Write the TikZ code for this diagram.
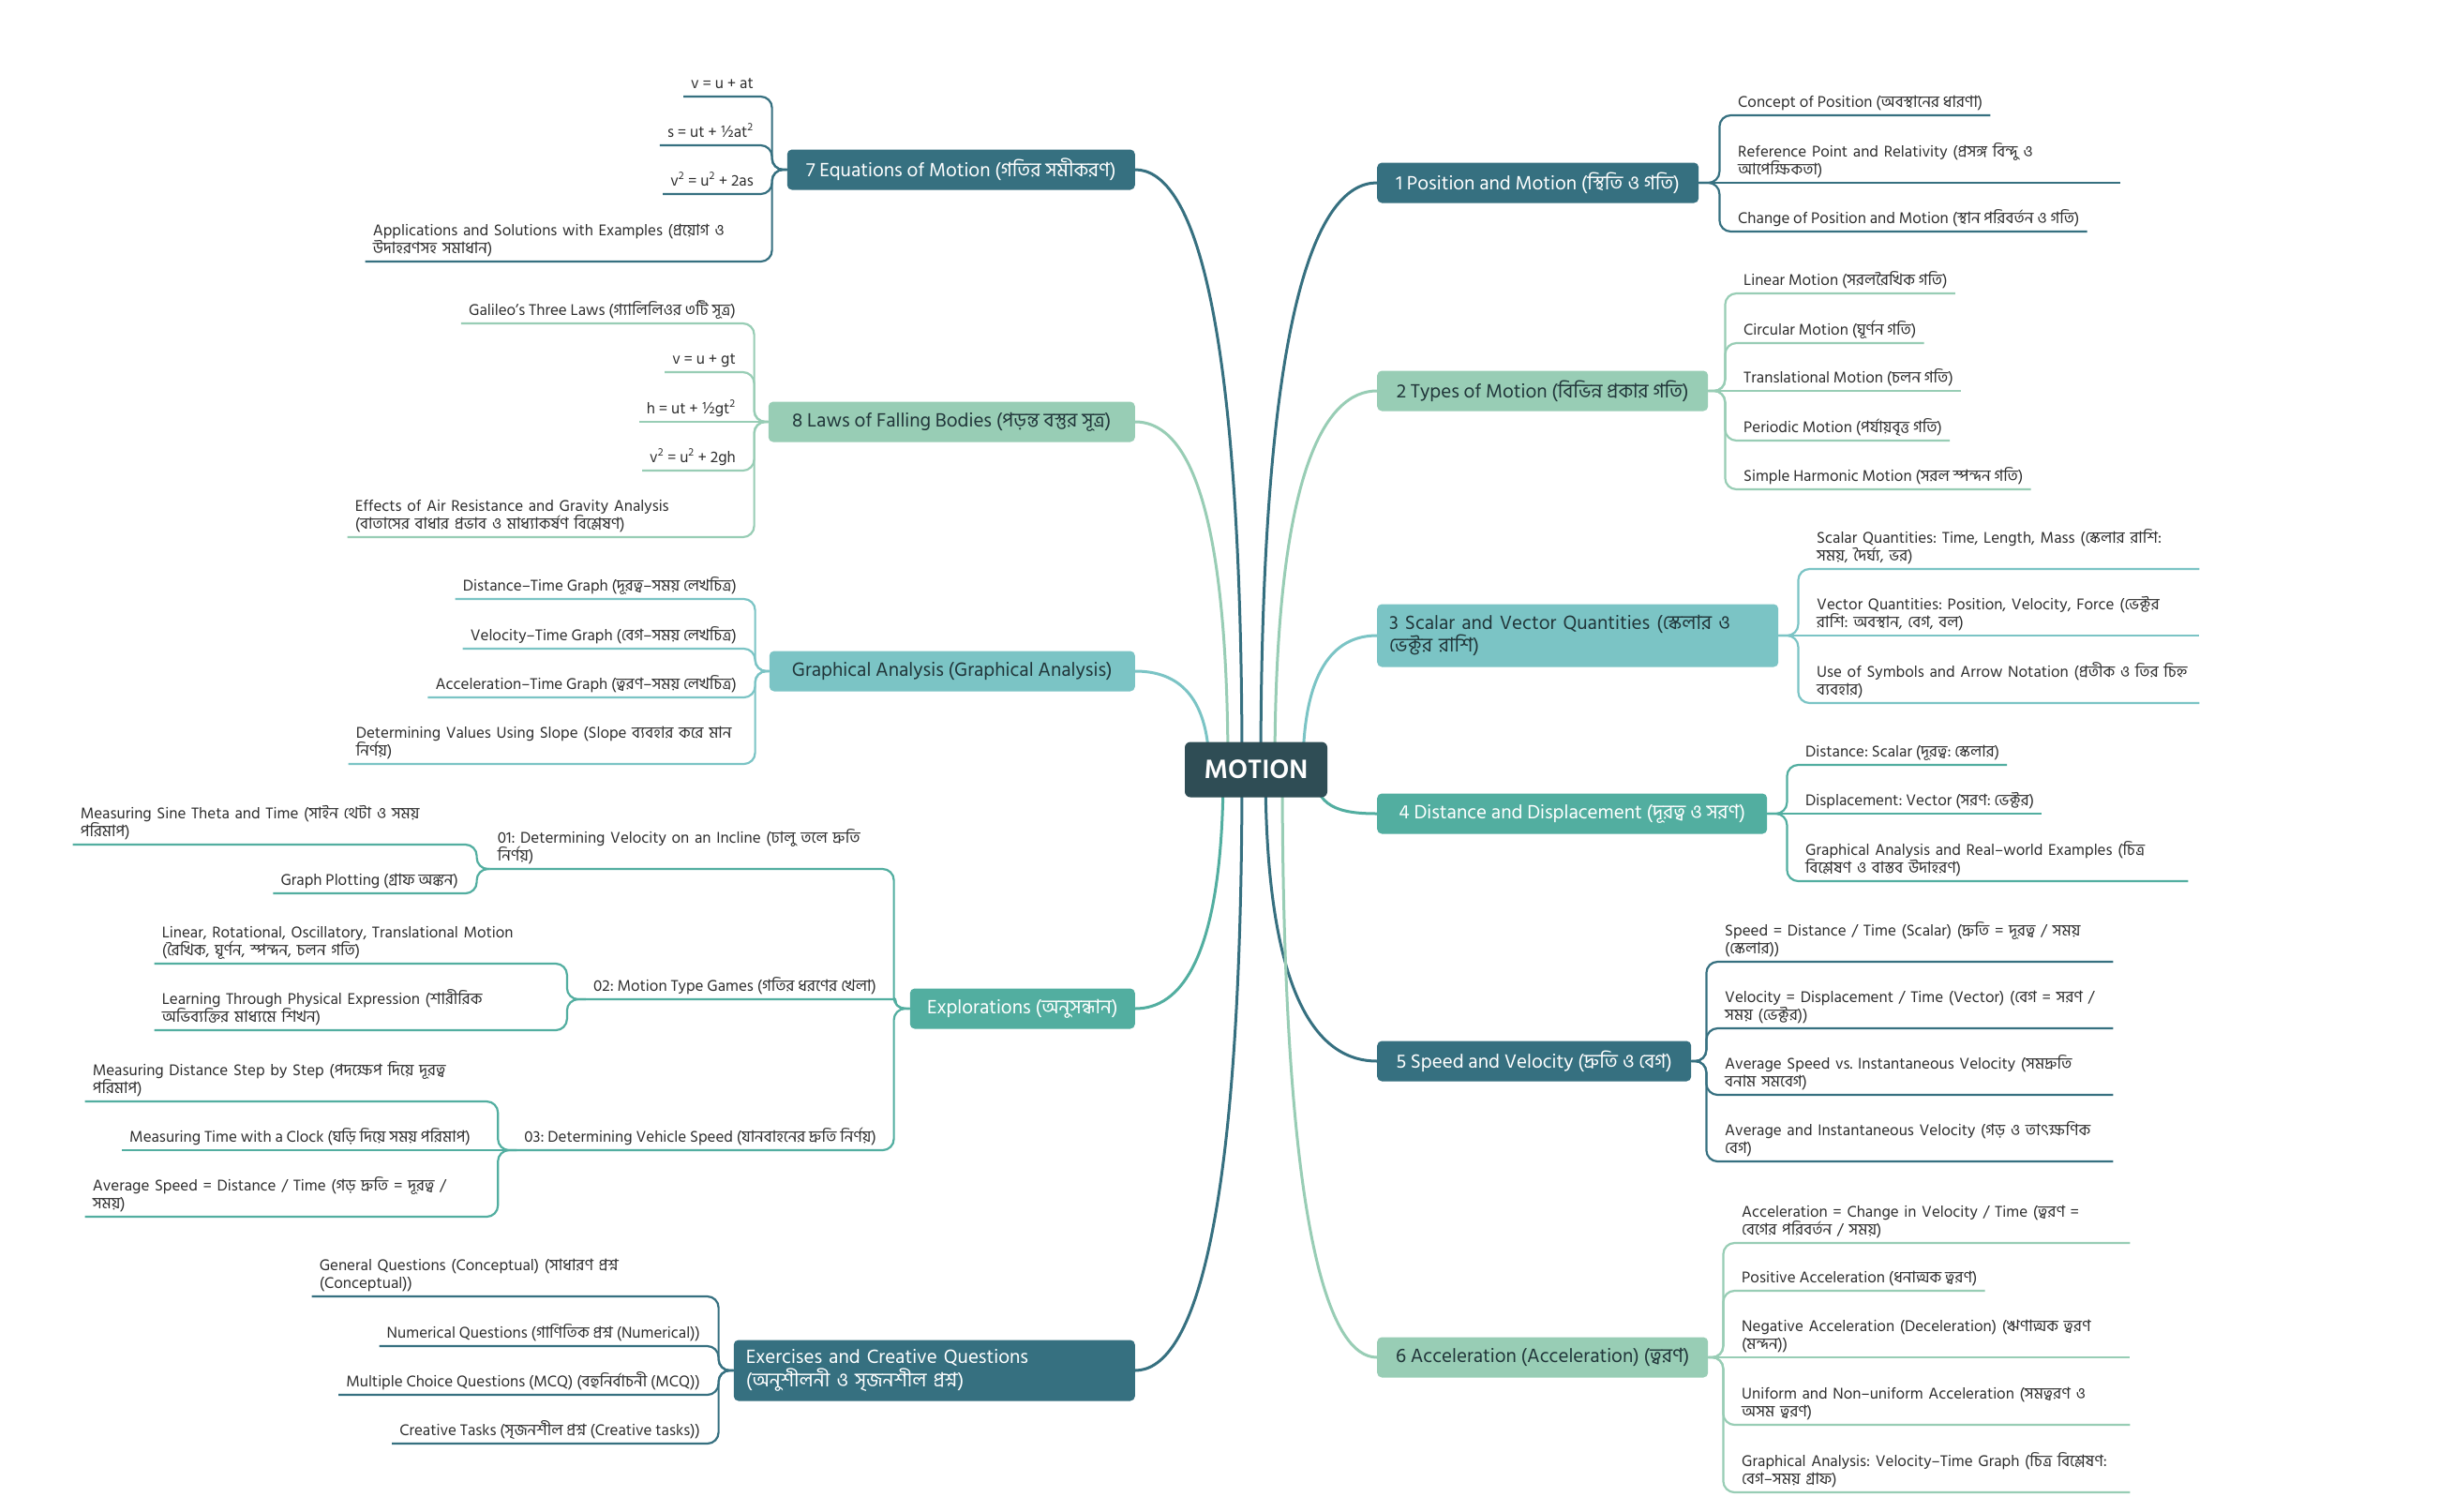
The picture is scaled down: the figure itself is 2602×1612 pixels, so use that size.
\documentclass[tikz,border=0pt]{standalone}
\usepackage{fontspec}
\setmainfont[Script=Bengali]{Hind Siliguri}
\usepackage{tikz}
\usetikzlibrary{calc,backgrounds}
\definecolor{deepteal}{HTML}{367080}
\definecolor{mintgreen}{HTML}{98CDB5}
\definecolor{paleteal}{HTML}{7BC4C5}
\definecolor{midteal}{HTML}{52AEA0}
\definecolor{coreslate}{HTML}{2F4D55}
\definecolor{inktext}{HTML}{2E2E2E}
\definecolor{inkdark}{HTML}{21363A}
\newcommand{\sqr}{\textsuperscript{2}}

\begin{document}
\frenchspacing
\begin{tikzpicture}[
  x=1pt, y=-1pt,
  root/.style={fill=coreslate, text=white, rounded corners=6pt, minimum width=152pt,
    minimum height=59pt, font=\fontsize{29}{33}\selectfont\bfseries},
  topic/.style={rounded corners=5pt, inner xsep=13pt, minimum height=43pt,
    font=\fontsize{21}{24.5}\selectfont},
  darktopic/.style={topic, fill=deepteal, text=white},
  greentopic/.style={topic, fill=mintgreen, text=inkdark},
  paletopic/.style={topic, fill=paleteal, text=inkdark},
  midtopic/.style={topic, fill=midteal, text=white},
  leaf/.style={inner xsep=8pt, inner ysep=3pt, text=inktext,
    font=\fontsize{17}{19}\selectfont, execute at end node=\strut},
  wide/.style={text width=#1, align=left},
  trunk/.style={line width=3pt},
  twig/.style={line width=2.2pt, rounded corners=12pt},
]
  \useasboundingbox (0,0) rectangle (2602,1612);

  \node[root] (motion) at (1340,821) {MOTION};

  \node[darktopic, anchor=west, minimum width=343pt] (n1) at (1469,195) {1 Position and Motion (স্থিতি ও গতি)};
  \node[greentopic, anchor=west, minimum width=353pt] (n2) at (1469,417) {2 Types of Motion (বিভিন্ন প্রকার গতি)};
  \node[paletopic, anchor=west, wide=402pt, minimum height=67pt] (n3) at (1469,678) {3 Scalar and Vector Quantities (স্কেলার ও\\ভেক্টর রাশি)};
  \node[midtopic, anchor=west, minimum width=416pt] (n4) at (1469,868) {4 Distance and Displacement (দূরত্ব ও সরণ)};
  \node[darktopic, anchor=west, minimum width=335pt] (n5) at (1469,1132) {5 Speed and Velocity (দ্রুতি ও বেগ)};
  \node[greentopic, anchor=west, minimum width=353pt] (n6) at (1469,1448) {6 Acceleration (Acceleration) (ত্বরণ)};

  \node[darktopic, anchor=east, minimum width=371pt] (n7) at (1211,181) {7 Equations of Motion (গতির সমীকরণ)};
  \node[greentopic, anchor=east, minimum width=391pt] (n8) at (1211,450) {8 Laws of Falling Bodies (পড়ন্ত বস্তুর সূত্র)};
  \node[paletopic, anchor=east, minimum width=390pt] (ga) at (1211,716) {Graphical Analysis (Graphical Analysis)};
  \node[midtopic, anchor=east, minimum width=240pt] (ex) at (1211,1076) {Explorations (অনুসন্ধান)};
  \node[darktopic, anchor=east, wide=402pt, minimum height=65pt] (eq) at (1211,1462) {Exercises and Creative Questions\\(অনুশীলনী ও সৃজনশীল প্রশ্ন)};

  \node[leaf, anchor=south west] (l11) at (1846,123) {Concept of Position (অবস্থানের ধারণা)};
  \node[leaf, anchor=south west, wide=400pt] (l12) at (1846,195) {Reference Point and Relativity (প্রসঙ্গ বিন্দু ও\\আপেক্ষিকতা)};
  \node[leaf, anchor=south west] (l13) at (1846,247) {Change of Position and Motion (স্থান পরিবর্তন ও গতি)};
  \draw[twig, deepteal] (n1.east) -- ++(22,0) |- (l11.south east);
  \draw[twig, deepteal] (n1.east) -- (l12.south east);
  \draw[twig, deepteal] (n1.east) -- ++(22,0) |- (l13.south east);

  \node[leaf, anchor=south west] (l21) at (1852,313) {Linear Motion (সরলরৈখিক গতি)};
  \node[leaf, anchor=south west] (l22) at (1852,366) {Circular Motion (ঘূর্ণন গতি)};
  \node[leaf, anchor=south west] (l23) at (1852,417) {Translational Motion (চলন গতি)};
  \node[leaf, anchor=south west] (l24) at (1852,470) {Periodic Motion (পর্যায়বৃত্ত গতি)};
  \node[leaf, anchor=south west] (l25) at (1852,522) {Simple Harmonic Motion (সরল স্পন্দন গতি)};
  \draw[twig, mintgreen] (n2.east) -- ++(18,0) |- (l21.south east);
  \draw[twig, mintgreen] (n2.east) -- ++(18,0) |- (l22.south east);
  \draw[twig, mintgreen] (n2.east) -- (l23.south east);
  \draw[twig, mintgreen] (n2.east) -- ++(18,0) |- (l24.south east);
  \draw[twig, mintgreen] (n2.east) -- ++(18,0) |- (l25.south east);

  \node[leaf, anchor=south west, wide=400pt] (l31) at (1930,607) {Scalar Quantities: Time, Length, Mass (স্কেলার রাশি:\\সময়, দৈর্ঘ্য, ভর)};
  \node[leaf, anchor=south west, wide=400pt] (l32) at (1930,678) {Vector Quantities: Position, Velocity, Force (ভেক্টর\\রাশি: অবস্থান, বেগ, বল)};
  \node[leaf, anchor=south west, wide=400pt] (l33) at (1930,750) {Use of Symbols and Arrow Notation (প্রতীক ও তির চিহ্ন\\ব্যবহার)};
  \draw[twig, paleteal] (n3.east) -- ++(21,0) |- (l31.south east);
  \draw[twig, paleteal] (n3.east) -- (l32.south east);
  \draw[twig, paleteal] (n3.east) -- ++(21,0) |- (l33.south east);

  \node[leaf, anchor=south west] (l41) at (1918,816) {Distance: Scalar (দূরত্ব: স্কেলার)};
  \node[leaf, anchor=south west] (l42) at (1918,868) {Displacement: Vector (সরণ: ভেক্টর)};
  \node[leaf, anchor=south west, wide=400pt] (l43) at (1918,940) {Graphical Analysis and Real–world Examples (চিত্র\\বিশ্লেষণ ও বাস্তব উদাহরণ)};
  \draw[twig, midteal] (n4.east) -- ++(21,0) |- (l41.south east);
  \draw[twig, midteal] (n4.east) -- (l42.south east);
  \draw[twig, midteal] (n4.east) -- ++(21,0) |- (l43.south east);

  \node[leaf, anchor=south west, wide=406pt] (l51) at (1832,1026) {Speed = Distance / Time (Scalar) (দ্রুতি = দূরত্ব / সময়\\(স্কেলার))};
  \node[leaf, anchor=south west, wide=406pt] (l52) at (1832,1097) {Velocity = Displacement / Time (Vector) (বেগ = সরণ /\\সময় (ভেক্টর))};
  \node[leaf, anchor=south west, wide=406pt] (l53) at (1832,1168) {Average Speed vs. Instantaneous Velocity (সমদ্রুতি\\বনাম সমবেগ)};
  \node[leaf, anchor=south west, wide=406pt] (l54) at (1832,1239) {Average and Instantaneous Velocity (গড় ও তাৎক্ষণিক\\বেগ)};
  \draw[twig, deepteal] (n5.east) -- ++(16,0) |- (l51.south east);
  \draw[twig, deepteal] (n5.east) -- ++(16,0) |- (l52.south east);
  \draw[twig, deepteal] (n5.east) -- ++(16,0) |- (l53.south east);
  \draw[twig, deepteal] (n5.east) -- ++(16,0) |- (l54.south east);

  \node[leaf, anchor=south west, wide=406pt] (l61) at (1850,1326) {Acceleration = Change in Velocity / Time (ত্বরণ =\\বেগের পরিবর্তন / সময়)};
  \node[leaf, anchor=south west] (l62) at (1850,1377) {Positive Acceleration (ধনাত্মক ত্বরণ)};
  \node[leaf, anchor=south west, wide=406pt] (l63) at (1850,1448) {Negative Acceleration (Deceleration) (ঋণাত্মক ত্বরণ\\(মন্দন))};
  \node[leaf, anchor=south west, wide=406pt] (l64) at (1850,1520) {Uniform and Non–uniform Acceleration (সমত্বরণ ও\\অসম ত্বরণ)};
  \node[leaf, anchor=south west, wide=406pt] (l65) at (1850,1592) {Graphical Analysis: Velocity–Time Graph (চিত্র বিশ্লেষণ:\\বেগ–সময় গ্রাফ)};
  \draw[twig, mintgreen] (n6.east) -- ++(16,0) |- (l61.south east);
  \draw[twig, mintgreen] (n6.east) -- ++(16,0) |- (l62.south east);
  \draw[twig, mintgreen] (n6.east) -- (l63.south east);
  \draw[twig, mintgreen] (n6.east) -- ++(16,0) |- (l64.south east);
  \draw[twig, mintgreen] (n6.east) -- ++(16,0) |- (l65.south east);

  \node[leaf, anchor=south east] (l71) at (812,103) {v = u + at};
  \node[leaf, anchor=south east] (l72) at (812,155) {s = ut + ½at\sqr};
  \node[leaf, anchor=south east] (l73) at (812,207) {v\sqr{} = u\sqr{} + 2as};
  \node[leaf, anchor=south east, wide=406pt] (l74) at (812,279) {Applications and Solutions with Examples (প্রয়োগ ও\\উদাহরণসহ সমাধান)};
  \draw[twig, deepteal] (n7.west) -- ++(-16,0) |- (l71.south west);
  \draw[twig, deepteal] (n7.west) -- ++(-16,0) |- (l72.south west);
  \draw[twig, deepteal] (n7.west) -- ++(-16,0) |- (l73.south west);
  \draw[twig, deepteal] (n7.west) -- ++(-16,0) |- (l74.south west);

  \node[leaf, anchor=south east] (l81) at (793,345) {Galileo's Three Laws (গ্যালিলিওর ৩টি সূত্র)};
  \node[leaf, anchor=south east] (l82) at (793,397) {v = u + gt};
  \node[leaf, anchor=south east] (l83) at (793,450) {h = ut + ½gt\sqr};
  \node[leaf, anchor=south east] (l84) at (793,502) {v\sqr{} = u\sqr{} + 2gh};
  \node[leaf, anchor=south east, wide=406pt] (l85) at (793,573) {Effects of Air Resistance and Gravity Analysis\\(বাতাসের বাধার প্রভাব ও মাধ্যাকর্ষণ বিশ্লেষণ)};
  \draw[twig, mintgreen] (n8.west) -- ++(-15,0) |- (l81.south west);
  \draw[twig, mintgreen] (n8.west) -- ++(-15,0) |- (l82.south west);
  \draw[twig, mintgreen] (n8.west) -- (l83.south west);
  \draw[twig, mintgreen] (n8.west) -- ++(-15,0) |- (l84.south west);
  \draw[twig, mintgreen] (n8.west) -- ++(-15,0) |- (l85.south west);

  \node[leaf, anchor=south east] (g1) at (794,639) {Distance–Time Graph (দূরত্ব–সময় লেখচিত্র)};
  \node[leaf, anchor=south east] (g2) at (794,692) {Velocity–Time Graph (বেগ–সময় লেখচিত্র)};
  \node[leaf, anchor=south east] (g3) at (794,744) {Acceleration–Time Graph (ত্বরণ–সময় লেখচিত্র)};
  \node[leaf, anchor=south east, wide=406pt] (g4) at (794,815) {Determining Values Using Slope (Slope ব্যবহার করে মান\\নির্ণয়)};
  \draw[twig, paleteal] (ga.west) -- ++(-15,0) |- (g1.south west);
  \draw[twig, paleteal] (ga.west) -- ++(-15,0) |- (g2.south west);
  \draw[twig, paleteal] (ga.west) -- ++(-15,0) |- (g3.south west);
  \draw[twig, paleteal] (ga.west) -- ++(-15,0) |- (g4.south west);

  \node[leaf, anchor=south east, wide=404pt] (s1) at (943,927) {01: Determining Velocity on an Incline (ঢালু তলে দ্রুতি\\নির্ণয়)};
  \node[leaf, anchor=south east] (s2) at (943,1066) {02: Motion Type Games (গতির ধরণের খেলা)};
  \node[leaf, anchor=south east] (s3) at (943,1227) {03: Determining Vehicle Speed (যানবাহনের দ্রুতি নির্ণয়)};
  \draw[twig, midteal] (ex.west) -- ++(-17,0) |- (s1.south west);
  \draw[twig, midteal] (ex.west) .. controls +(-20,0) and +(14,0) .. (s2.south east) -- (s2.south west);
  \draw[twig, midteal] (ex.west) -- ++(-17,0) |- (s3.south west);

  \node[leaf, anchor=south east, wide=403pt] (s1a) at (497,901) {Measuring Sine Theta and Time (সাইন থেটা ও সময়\\পরিমাপ)};
  \node[leaf, anchor=south east] (s1b) at (497,953) {Graph Plotting (গ্রাফ অঙ্কন)};
  \draw[twig, midteal] (s1.south west) -- ++(-14,0) |- (s1a.south west);
  \draw[twig, midteal] (s1.south west) -- ++(-14,0) |- (s1b.south west);

  \node[leaf, anchor=south east, wide=397pt] (s2a) at (578,1028) {Linear, Rotational, Oscillatory, Translational Motion\\(রৈখিক, ঘূর্ণন, স্পন্দন, চলন গতি)};
  \node[leaf, anchor=south east, wide=397pt] (s2b) at (578,1099) {Learning Through Physical Expression (শারীরিক\\অভিব্যক্তির মাধ্যমে শিখন)};
  \draw[twig, midteal] (s2.south west) -- ++(-20,0) |- (s2a.south west);
  \draw[twig, midteal] (s2.south west) -- ++(-20,0) |- (s2b.south west);

  \node[leaf, anchor=south east, wide=403pt] (s3a) at (510,1175) {Measuring Distance Step by Step (পদক্ষেপ দিয়ে দূরত্ব\\পরিমাপ)};
  \node[leaf, anchor=south east] (s3b) at (510,1227) {Measuring Time with a Clock (ঘড়ি দিয়ে সময় পরিমাপ)};
  \node[leaf, anchor=south east, wide=403pt] (s3c) at (510,1298) {Average Speed = Distance / Time (গড় দ্রুতি = দূরত্ব /\\সময়)};
  \draw[twig, midteal] (s3.south west) -- ++(-20,0) |- (s3a.south west);
  \draw[twig, midteal] (s3.south west) -- (s3b.south west);
  \draw[twig, midteal] (s3.south west) -- ++(-20,0) |- (s3c.south west);

  \node[leaf, anchor=south east, wide=406pt] (q1) at (755,1383) {General Questions (Conceptual) (সাধারণ প্রশ্ন\\(Conceptual))};
  \node[leaf, anchor=south east] (q2) at (755,1436) {Numerical Questions (গাণিতিক প্রশ্ন (Numerical))};
  \node[leaf, anchor=south east] (q3) at (755,1488) {Multiple Choice Questions (MCQ) (বহুনির্বাচনী (MCQ))};
  \node[leaf, anchor=south east] (q4) at (755,1540) {Creative Tasks (সৃজনশীল প্রশ্ন (Creative tasks))};
  \draw[twig, deepteal] (eq.west) -- ++(-16,0) |- (q1.south west);
  \draw[twig, deepteal] (eq.west) -- ++(-16,0) |- (q2.south west);
  \draw[twig, deepteal] (eq.west) -- ++(-16,0) |- (q3.south west);
  \draw[twig, deepteal] (eq.west) -- ++(-16,0) |- (q4.south west);

  \begin{scope}[on background layer]
    \fill[white] (0,0) rectangle (2602,1612);
    \draw[trunk, deepteal] ($(motion.center)+(5,0)$) .. controls +(0,-500) and +(-62,0) .. (n1.west);
    \draw[trunk, mintgreen] ($(motion.center)+(20,0)$) .. controls +(0,-320) and +(-55,0) .. (n2.west);
    \draw[trunk, paleteal] ($(motion.center)+(50,0)$) .. controls +(0,-115) and +(-40,0) .. (n3.west);
    \draw[trunk, midteal] ($(motion.center)+(62,0)$) .. controls +(0,40) and +(-40,0) .. (n4.west);
    \draw[trunk, deepteal] ($(motion.center)+(10,0)$) .. controls +(0,250) and +(-60,0) .. (n5.west);
    \draw[trunk, mintgreen] ($(motion.center)+(28,0)$) .. controls +(0,500) and +(-50,0) .. (n6.west);
    \draw[trunk, deepteal] ($(motion.center)+(-15,0)$) .. controls +(0,-510) and +(57,0) .. (n7.east);
    \draw[trunk, mintgreen] ($(motion.center)+(-30,0)$) .. controls +(0,-300) and +(50,0) .. (n8.east);
    \draw[trunk, paleteal] ($(motion.center)+(-50,0)$) .. controls +(0,-85) and +(40,0) .. (ga.east);
    \draw[trunk, midteal] ($(motion.center)+(-35,0)$) .. controls +(0,205) and +(47,0) .. (ex.east);
    \draw[trunk, deepteal] ($(motion.center)+(-15,0)$) .. controls +(0,510) and +(57,0) .. (eq.east);
  \end{scope}
\end{tikzpicture}
\end{document}
